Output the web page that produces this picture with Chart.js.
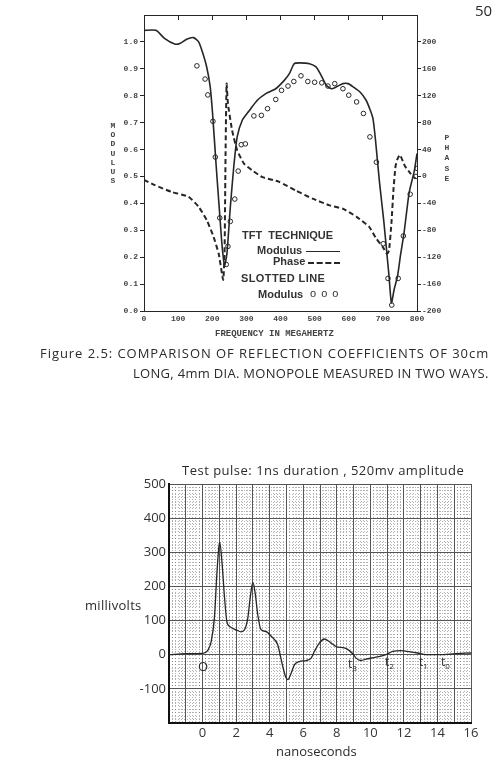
<!DOCTYPE html>
<html>
<head>
<meta charset="utf-8">
<script src="https://cdn.jsdelivr.net/npm/chart.js@4.4.1/dist/chart.umd.min.js"></script>
<style>
  body { margin: 0; width: 495px; height: 775px; background: #fff; position: relative; overflow: hidden; color: #2b2b2b; font-family: "Open Sans", sans-serif; }
  .t { position: absolute; white-space: nowrap; }
  .mono { font-family: "Liberation Mono", monospace; font-weight: bold; font-size: 8px; color: #444; }
  .leg { font-family: "Liberation Sans", sans-serif; font-weight: bold; font-size: 11px; line-height: 11px; color: #333; }
  .stack { text-align: center; width: 10px; }
  #topWrap { position: absolute; left: 0; top: 0; }
  #botWrap { position: absolute; left: 0; top: 460px; }
</style>
</head>
<body>

<div id="topWrap"><canvas id="topChart" width="495" height="345"></canvas></div>
<div id="botWrap"><canvas id="botChart" width="495" height="315"></canvas></div>

<!-- page number -->
<div class="t" style="left:475px;top:3px;font-size:15px;line-height:15px;">50</div>

<!-- top chart texts -->
<div class="t mono stack" style="left:108px;top:121px;line-height:9.2px;">M<br>O<br>D<br>U<br>L<br>U<br>S</div>
<div class="t mono stack" style="left:442px;top:133px;line-height:10.2px;">P<br>H<br>A<br>S<br>E</div>
<div class="t mono" style="left:215px;top:330px;font-size:9px;line-height:9px;">FREQUENCY IN MEGAHERTZ</div>

<div class="t leg" style="left:242px;top:230px;">TFT&nbsp; TECHNIQUE</div>
<div class="t leg" style="left:257px;top:245px;">Modulus</div>
<div class="t" style="left:306px;top:251px;width:34px;border-top:1.5px solid #262626;"></div>
<div class="t leg" style="left:273px;top:256px;">Phase</div>
<div class="t" style="left:308px;top:262px;width:32px;border-top:2px dashed #262626;"></div>
<div class="t leg" style="left:241px;top:273px;letter-spacing:0.4px;">SLOTTED LINE</div>
<div class="t leg" style="left:258px;top:289px;">Modulus</div>
<div class="t leg" style="left:310px;top:288px;font-weight:normal;letter-spacing:1px;">o o o</div>

<!-- caption -->
<div class="t" style="left:40px;top:345px;font-size:13px;line-height:16px;letter-spacing:0.95px;">Figure 2.5: COMPARISON OF REFLECTION COEFFICIENTS OF 30cm</div>
<div class="t" style="left:133px;top:365px;font-size:13px;line-height:16px;letter-spacing:0.3px;">LONG, 4mm DIA. MONOPOLE MEASURED IN TWO WAYS.</div>

<!-- bottom chart texts -->
<div class="t" style="left:182px;top:462px;font-size:13px;line-height:16px;letter-spacing:0.5px;">Test pulse: 1ns duration , 520mv amplitude</div>
<div class="t" style="left:85px;top:597px;font-size:13px;line-height:16px;letter-spacing:0.3px;">millivolts</div>
<div class="t" style="left:276px;top:743px;font-size:13px;line-height:16px;">nanoseconds</div>
<div class="t" style="left:198px;top:658px;font-size:13px;line-height:16px;">O</div>
<div class="t" style="left:348px;top:657px;font-size:12px;line-height:14px;">t<sub style="font-size:8px">3</sub></div>
<div class="t" style="left:385px;top:655px;font-size:12px;line-height:14px;">t<sub style="font-size:8px">2</sub></div>
<div class="t" style="left:419px;top:655px;font-size:12px;line-height:14px;">t<sub style="font-size:8px">1</sub></div>
<div class="t" style="left:441px;top:655px;font-size:12px;line-height:14px;">t<sub style="font-size:8px">0</sub></div>

<script>
// ===================== Top chart data =====================
const tftFreq = [0, 35, 60, 90, 105, 125, 145, 160, 171, 184, 194, 201, 211, 221, 229, 236, 243, 253, 263, 273, 288, 307, 332, 357, 386, 411, 426, 440, 455, 485, 504, 519, 534, 549, 564, 583, 598, 613, 633, 650, 662, 671, 678, 690, 703, 712, 718, 725, 733, 743, 752, 762, 777, 792, 800];
const tftModulus = [1.043, 1.043, 1.013, 0.992, 0.994, 1.010, 1.016, 1.000, 0.963, 0.905, 0.833, 0.733, 0.548, 0.374, 0.240, 0.170, 0.213, 0.387, 0.535, 0.647, 0.709, 0.742, 0.783, 0.808, 0.826, 0.857, 0.882, 0.919, 0.922, 0.919, 0.907, 0.876, 0.839, 0.826, 0.833, 0.845, 0.845, 0.833, 0.814, 0.785, 0.750, 0.715, 0.640, 0.480, 0.330, 0.210, 0.130, 0.030, 0.080, 0.130, 0.210, 0.290, 0.440, 0.520, 0.585];

const phaseFreq = [0, 32, 81, 130, 160, 184, 204, 219, 232, 236, 239, 242, 246, 258, 273, 293, 317, 347, 396, 445, 494, 544, 583, 623, 660, 680, 700, 712, 718, 725, 731, 737, 742, 750, 765, 780, 795];
const phaseDeg = [-5, -13, -23, -30, -45, -65, -90, -115, -154, -115, 34, 138, 108, 69, 39, 19, 9, -1, -8, -21, -33, -43, -48, -60, -75, -92, -105, -115, -110, -70, -20, 15, 25, 32, 15, 5, -3];

const slotFreq = [155, 179, 187, 202, 209, 222, 241, 246, 253, 266, 276, 285, 297, 322, 344, 362, 386, 403, 422, 439, 460, 480, 500, 521, 539, 559, 583, 600, 623, 643, 662, 681, 701, 715, 726, 745, 760, 780, 797, 800];
const slotModulus = [0.911, 0.862, 0.803, 0.705, 0.572, 0.346, 0.173, 0.240, 0.333, 0.416, 0.520, 0.618, 0.621, 0.725, 0.727, 0.752, 0.786, 0.820, 0.836, 0.853, 0.874, 0.853, 0.850, 0.848, 0.836, 0.845, 0.826, 0.802, 0.777, 0.734, 0.647, 0.553, 0.250, 0.121, 0.022, 0.121, 0.279, 0.434, 0.500, 0.530];

const freqTicks = [0, 100, 200, 300, 400, 500, 600, 700, 800];
const topEdgeTicks = [100, 200, 300, 400, 500, 600, 700];
const modulusTicks = [0, 0.1, 0.2, 0.3, 0.4, 0.5, 0.6, 0.7, 0.8, 0.9, 1.0];
const phaseTicks = [-200, -160, -120, -80, -40, 0, 40, 80, 120, 160, 200];

// ===================== Bottom chart data =====================
const pulseTime = [-2, -1, 0, 0.3, 0.52, 0.71, 0.85, 0.97, 1.02, 1.17, 1.31, 1.45, 1.61, 2.0, 2.3, 2.5, 2.7, 2.84, 3.0, 3.15, 3.29, 3.49, 3.79, 4.09, 4.48, 4.6, 4.78, 4.94, 5.08, 5.28, 5.48, 5.77, 6.17, 6.47, 6.67, 6.96, 7.26, 7.56, 7.96, 8.45, 8.75, 9.0, 9.15, 9.45, 9.74, 10.34, 10.93, 11.33, 11.83, 12.32, 12.82, 13.32, 14.1, 15.1, 16];
const pulseMv = [0, 3, 4, 12, 40, 110, 234, 315, 330, 263, 167, 97, 83, 73, 67, 73, 108, 167, 212, 175, 117, 73, 68, 54, 29, 5, -34, -63, -73, -54, -29, -20, -17, -10, 10, 34, 46, 38, 24, 20, 12, 0, -10, -17, -13, -7, 0, 10, 12, 9, 5, 0, 0, 3, 5];

const nsGrid = [-2, -1, 0, 1, 2, 3, 4, 5, 6, 7, 8, 9, 10, 11, 12, 13, 14, 15, 16];
const mvTicks = [-200, -100, 0, 100, 200, 300, 400, 500];

// ===================== Helpers =====================
const INK = '#262626';
const xy = (xs, ys) => xs.map((x, i) => ({ x: x, y: ys[i] }));
const setTicks = arr => scale => { scale.ticks = arr.map(v => ({ value: v })); };
const fixW = w => scale => { scale.width = w; };
const fixH = h => scale => { scale.height = h; };
const monoFont = { family: 'Liberation Mono', size: 8, weight: 'bold' };
const sansFont = { family: 'Open Sans', size: 13 };

// ===================== Top chart =====================
new Chart(document.getElementById('topChart'), {
  type: 'scatter',
  data: {
    datasets: [
      { label: 'Modulus', data: xy(tftFreq, tftModulus), showLine: true, borderColor: INK, borderWidth: 1.6, pointRadius: 0, tension: 0.2, yAxisID: 'y' },
      { label: 'Phase', data: xy(phaseFreq, phaseDeg), showLine: true, borderColor: INK, borderWidth: 2, borderDash: [5, 3], pointRadius: 0, tension: 0.15, yAxisID: 'y2' },
      { label: 'Slotted line', data: xy(slotFreq, slotModulus), showLine: false, pointRadius: 2.3, pointBackgroundColor: '#fff', pointBorderColor: INK, pointBorderWidth: 1, yAxisID: 'y' }
    ]
  },
  options: {
    responsive: false,
    animation: false,
    layout: { padding: { top: 15, left: 0, right: 0, bottom: 0 } },
    plugins: { legend: { display: false }, tooltip: { enabled: false } },
    scales: {
      x: {
        type: 'linear', position: 'bottom', min: 0, max: 800,
        afterBuildTicks: setTicks(freqTicks), afterFit: fixH(34),
        grid: { drawOnChartArea: false, drawTicks: false },
        border: { color: INK, width: 1 },
        ticks: { font: monoFont, color: '#444', padding: 3, maxRotation: 0 }
      },
      x2: {
        type: 'linear', position: 'top', min: 0, max: 800,
        afterBuildTicks: setTicks(topEdgeTicks), afterFit: fixH(0),
        grid: { drawOnChartArea: false, tickLength: -5, tickColor: INK },
        border: { color: INK, width: 1 },
        ticks: { display: false }
      },
      y: {
        position: 'left', min: 0, max: 1.1,
        afterBuildTicks: setTicks(modulusTicks), afterFit: fixW(144),
        grid: { drawOnChartArea: false, tickLength: 4, tickColor: INK },
        border: { color: INK, width: 1 },
        ticks: { font: monoFont, color: '#444', padding: 2, callback: v => v.toFixed(1) }
      },
      y2: {
        position: 'right', min: -200, max: 240,
        afterBuildTicks: setTicks(phaseTicks), afterFit: fixW(78),
        grid: { drawOnChartArea: false, tickLength: 4, tickColor: INK },
        border: { color: INK, width: 1 },
        ticks: { font: monoFont, color: '#444', padding: 1 }
      }
    }
  }
});

// ===================== Bottom chart =====================
new Chart(document.getElementById('botChart'), {
  type: 'scatter',
  data: {
    datasets: [
      { label: 'Test pulse', data: xy(pulseTime, pulseMv), showLine: true, borderColor: INK, borderWidth: 1.3, pointRadius: 0, cubicInterpolationMode: 'monotone' }
    ]
  },
  options: {
    responsive: false,
    animation: false,
    layout: { padding: { top: 24, left: 0, right: 24, bottom: 0 } },
    plugins: { legend: { display: false }, tooltip: { enabled: false } },
    scales: {
      xMinor: {
        type: 'linear', position: 'bottom', min: -2, max: 16, z: -1,
        afterFit: fixH(0),
        grid: { color: 'rgba(70,70,70,0.42)', lineWidth: 1, drawTicks: false },
        border: { display: false, dash: [1, 2] },
        ticks: { display: false, stepSize: 0.2 }
      },
      yMinor: {
        type: 'linear', position: 'left', min: -200, max: 500, z: -1,
        afterFit: fixW(0),
        grid: { color: 'rgba(70,70,70,0.42)', lineWidth: 1, drawTicks: false },
        border: { display: false, dash: [1, 2] },
        ticks: { display: false, stepSize: 10 }
      },
      x: {
        type: 'linear', position: 'bottom', min: -2, max: 16,
        afterBuildTicks: setTicks(nsGrid), afterFit: fixH(52),
        grid: { color: '#555', lineWidth: 1, drawTicks: false },
        border: { color: '#111', width: 2 },
        ticks: { font: sansFont, color: '#333', padding: 2, maxRotation: 0, autoSkip: false,
                 callback: v => (v >= 0 && v % 2 === 0) ? String(v) : '' }
      },
      y: {
        position: 'left', min: -200, max: 500,
        afterBuildTicks: setTicks(mvTicks), afterFit: fixW(169),
        grid: { color: '#555', lineWidth: 1, drawTicks: false },
        border: { color: '#111', width: 2 },
        ticks: { font: sansFont, color: '#333', padding: 3,
                 callback: v => v === -200 ? '' : String(v) }
      }
    }
  }
});
</script>
</body>
</html>
